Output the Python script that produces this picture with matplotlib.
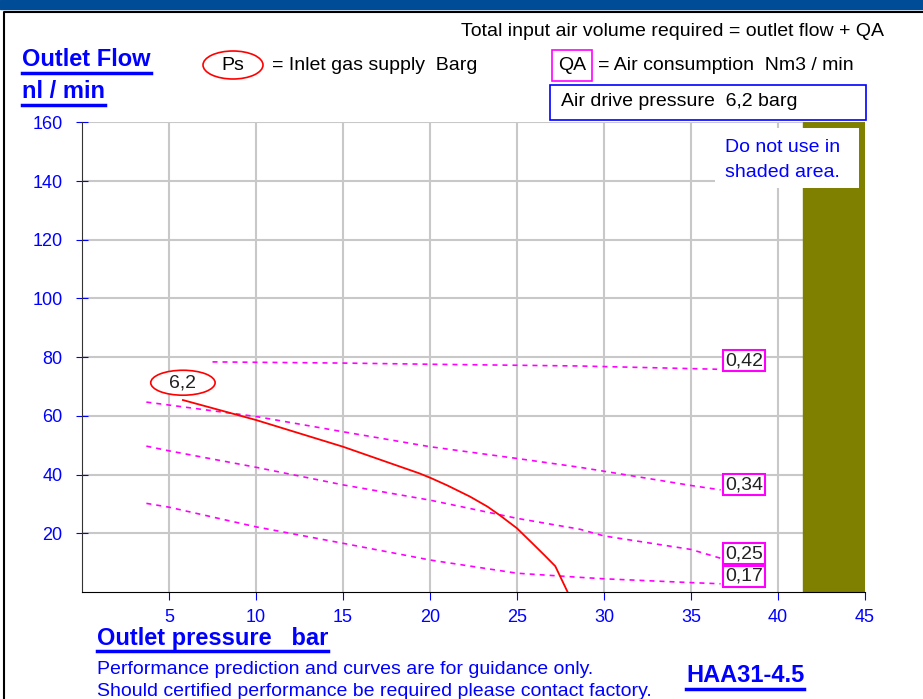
import matplotlib
matplotlib.use('Agg')
import matplotlib.pyplot as plt
from matplotlib.patches import Ellipse, Rectangle
from matplotlib.lines import Line2D

plt.rcParams['font.family'] = ['Liberation Sans', 'DejaVu Sans']

# curve for inlet supply 6,2 barg
ps_x = [5.8, 10, 15, 19.4, 20.1, 21.0, 22.3, 23.3, 24.0, 25.0, 25.9, 26.6, 27.2, 27.9]
ps_y = [65.4, 58.6, 49.5, 40.4, 38.7, 36.3, 32.5, 29.1, 26.2, 21.7, 16.5, 12.4, 8.8, 0.1]

# air consumption lines (QA)
qa042_x = [7.5, 15, 20, 28.6, 36.5]
qa042_y = [78.4, 78.0, 77.6, 77.0, 75.9]
qa034_x = [3.7, 5, 10, 15, 20, 25, 28.6, 35.1, 36.7]
qa034_y = [64.7, 63.7, 59.8, 54.6, 49.5, 45.5, 42.5, 36.2, 34.8]
qa025_x = [3.7, 5, 10, 15, 20, 25, 28.6, 30, 35, 36.7]
qa025_y = [49.7, 48.1, 42.5, 36.5, 31.3, 25.1, 21.4, 19.1, 14.5, 11.5]
qa017_x = [3.7, 5, 10, 15, 20, 25, 28.6, 30, 35, 36.7]
qa017_y = [30.2, 28.9, 22.2, 16.6, 10.9, 6.4, 5.0, 4.5, 3.2, 2.8]

qa_labels = ['0,42', '0,34', '0,25', '0,17']
qa_label_y = [78.8, 36.6, 13.0, 5.4]

xticks = [5, 10, 15, 20, 25, 30, 35, 40, 45]
yticks = [20, 40, 60, 80, 100, 120, 140, 160]

W, H = 923, 699
fig = plt.figure(figsize=(W / 100, H / 100), dpi=100)
blue = '#0000ff'
mag = '#ff00ff'
fs = 14

# header band and frame
fig.patches.append(Rectangle((0, 1 - 9 / H), 1, 9 / H, transform=fig.transFigure,
                             color='#004c97', zorder=0))
fig.lines.append(Line2D([4 / W, 4 / W, 1], [0, 1 - 12 / H, 1 - 12 / H],
                        transform=fig.transFigure, color='black', lw=1.5))

ax = fig.add_axes([82 / W, (H - 592) / H, (865 - 82) / W, (592 - 122.4) / H])
ax.set_xlim(0, 45)
ax.set_ylim(0, 160)
ax.set_xticks(xticks)
ax.set_yticks(yticks)
ax.grid(True, color='#c8c8c8', lw=1.5)
ax.set_axisbelow(True)
for s in ['top', 'right']:
    ax.spines[s].set_visible(False)
ax.spines['left'].set_color('#333333')
ax.spines['bottom'].set_color('black')
ax.tick_params(axis='both', colors=blue, labelsize=13, length=6)
ax.tick_params(axis='x', pad=6)
ax.tick_params(axis='y', direction='inout', length=8, pad=10)

# shaded area
ax.axvspan(41.45, 45, color='#808000', zorder=1)
ax.add_patch(Rectangle((36.4, 137.6), 8.26, 20.5, facecolor='white', edgecolor='none', zorder=2))
ax.text(36.95, 151.6, 'Do not use in', color=blue, fontsize=fs, va='center', zorder=3)
ax.text(36.95, 143.1, 'shaded area.', color=blue, fontsize=fs, va='center', zorder=3)

for xs, ys in [(qa042_x, qa042_y), (qa034_x, qa034_y), (qa025_x, qa025_y), (qa017_x, qa017_y)]:
    ax.plot(xs, ys, color=mag, ls=(0, (3, 3)), lw=1.2, zorder=3)
for lab, yy in zip(qa_labels, qa_label_y):
    ax.text(38.05, yy, lab, fontsize=fs, ha='center', va='center', color='#222222', zorder=5,
            bbox=dict(facecolor='white', edgecolor=mag, pad=1.5, lw=1.5))

ax.plot(ps_x, ps_y, color='red', lw=1.3, zorder=4)
ax.add_patch(Ellipse((5.8, 71.3), 3.7, 8.5, facecolor='white', edgecolor='red', lw=1.2, zorder=5))
ax.text(5.8, 71.3, '6,2', fontsize=fs, ha='center', va='center', color='#222222', zorder=6)

# header texts
fig.text(884 / W, 1 - 32 / H, 'Total input air volume required = outlet flow + QA',
         fontsize=fs, ha='right', va='center')
t1 = fig.text(22 / W, 1 - 60 / H, 'Outlet Flow', fontsize=17, fontweight='bold', color=blue,
              va='center')
t2 = fig.text(22 / W, 1 - 92 / H, 'nl / min', fontsize=17, fontweight='bold', color=blue,
              va='center')
fig.patches.append(Ellipse((233 / W, 1 - 65 / H), 60 / W, 28 / H, transform=fig.transFigure,
                           facecolor='none', edgecolor='red', lw=1.2))
fig.text(233 / W, 1 - 65 / H, 'Ps', fontsize=fs, ha='center', va='center')
fig.text(272 / W, 1 - 65 / H, '= Inlet gas supply  Barg', fontsize=fs, va='center')
fig.patches.append(Rectangle((552 / W, 1 - 81 / H), 40 / W, 31 / H, transform=fig.transFigure,
                             facecolor='none', edgecolor=mag, lw=1.2))
fig.text(572 / W, 1 - 65 / H, 'QA', fontsize=fs, ha='center', va='center')
fig.text(598 / W, 1 - 65 / H, '= Air consumption  Nm3 / min', fontsize=fs, va='center')
fig.patches.append(Rectangle((550 / W, 1 - 120 / H), 316 / W, 35 / H, transform=fig.transFigure,
                             facecolor='none', edgecolor=blue, lw=1.2))
fig.text(561 / W, 1 - 102 / H, 'Air drive pressure  6,2 barg', fontsize=fs, va='center')

# footer texts
t3 = fig.text(97 / W, 1 - 638 / H, 'Outlet pressure   bar', fontsize=17, fontweight='bold',
              color=blue, va='center')
fig.text(97 / W, 1 - 669 / H, 'Performance prediction and curves are for guidance only.',
         fontsize=fs, color=blue, va='center')
fig.text(97 / W, 1 - 692 / H, 'Should certified performance be required please contact factory.',
         fontsize=fs, color=blue, va='center')
t4 = fig.text(686 / W, 1 - 676 / H, 'HAA31-4.5', fontsize=17, fontweight='bold', color=blue,
              va='center')

# underlines
fig.canvas.draw()
r = fig.canvas.get_renderer()
for t in [t1, t2, t3, t4]:
    bb = t.get_window_extent(r)
    yline = (bb.y0 - 1) / H
    fig.lines.append(Line2D([bb.x0 / W, bb.x1 / W], [yline, yline], transform=fig.transFigure,
                            color=blue, lw=2.5))

fig.savefig('out.png', dpi=100)
